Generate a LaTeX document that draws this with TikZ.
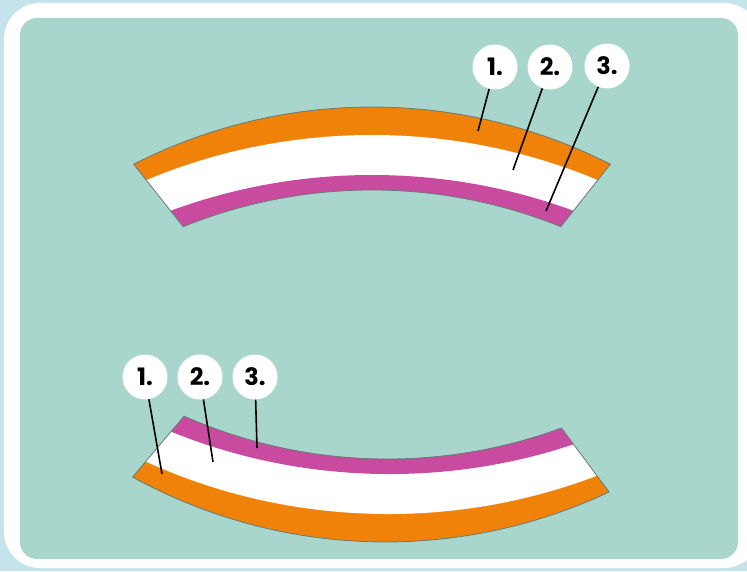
\documentclass[tikz,border=0pt]{standalone}
\usepackage{fontspec}
\newfontfamily\numfont{Poppins}
\usetikzlibrary{calc}
\definecolor{framebg}{RGB}{197,227,234}
\definecolor{panel}{RGB}{168,214,205}
\definecolor{sleeveorange}{RGB}{240,130,10}
\definecolor{sleevepink}{RGB}{200,75,160}
\definecolor{edge}{RGB}{100,125,120}
% outline of one sleeve, origin at the centre of its outer arc
\def\sleevepath{(117:525) arc[start angle=117, end angle=63, radius=525]
    -- ($(0,-62)+(68:504)$) arc[start angle=68, end angle=112, radius=504] -- cycle}
\newcommand{\drawsleeve}{%
    \begin{scope}
        \clip \sleevepath;
        \fill[sleeveorange] (-300,300) rectangle (300,560);
        \fill[white] (0,-88) circle[radius=585];
        \fill[sleevepink] (0,-125) circle[radius=582];
    \end{scope}
    \draw[edge, line width=0.8pt] \sleevepath;}
\begin{document}
\begin{tikzpicture}[x=1pt, y=1pt,
    num/.style={circle, fill=white, inner sep=0pt, minimum size=45pt,
        font=\numfont\bfseries\fontsize{24}{24}\selectfont},
    leader/.style={black, line width=1.6pt}]
    \useasboundingbox (0,0) rectangle (747,571);
    \clip (0,0) rectangle (747,571);
    % Frame
    \fill[framebg] (0,0) rectangle (747,571);
    \fill[white, rounded corners=36pt] (4,3) rectangle (760,568);
    \fill[panel, rounded corners=17pt] (20,12) rectangle (738,553);
    % Upper sleeve
    \begin{scope}[shift={(372,-61)}]
        \drawsleeve
    \end{scope}
    % Lower sleeve, turned over
    \begin{scope}[shift={(385.5,554)}, rotate=-1.8, yscale=-1]
        \drawsleeve
    \end{scope}
    % Numbered labels
    \foreach \n/\px/\py/\tx/\ty in {1/495/504/478/440, 2/550/504/513/401, 3/607/505/546/360} {
        \coordinate (tt\n) at (\tx,\ty);
        \node[num] (t\n) at (\px,\py) {\n.};
        \draw[leader] (t\n) -- (tt\n);
    }
    \foreach \n/\px/\py/\tx/\ty in {1/145/194/162/97, 2/200/194/213/109, 3/255/194/257/123} {
        \coordinate (bt\n) at (\tx,\ty);
        \node[num] (b\n) at (\px,\py) {\n.};
        \draw[leader] (b\n) -- (bt\n);
    }
\end{tikzpicture}
\end{document}
